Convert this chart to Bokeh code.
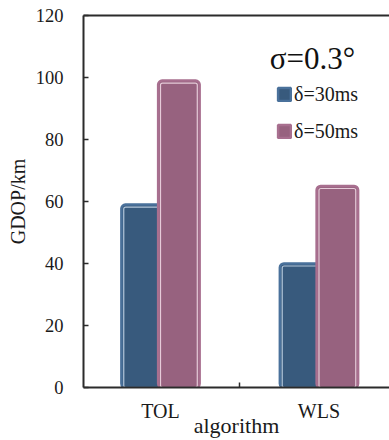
import numpy as np
from bokeh.plotting import figure
from bokeh.models import (ColumnDataSource, LinearAxis, FixedTicker, Range1d,
                          Legend, LegendItem, Label)
from bokeh.embed import file_html
from bokeh.resources import INLINE

# Data
algorithms = ["TOL", "WLS"]
gdop_30ms = [59, 40]
gdop_50ms = [99, 65]
series_labels = ["δ=30ms", "δ=50ms"]
y_ticks = [0, 20, 40, 60, 80, 100, 120]

FONT = "Liberation Serif"
TEXT = "#1a1a1a"
BLUE_FILL, BLUE_EDGE, BLUE_HI = "#385a7d", "#4a719b", "#b4c7db"
PINK_FILL, PINK_EDGE, PINK_HI = "#97627f", "#a86f8f", "#e6cbd9"

centers = np.arange(len(algorithms)) + 0.5
offset = 0.116
bar_w = 0.262
inset_w = 0.03
inset_top = 0.8

src_a = ColumnDataSource(dict(x=centers - offset, top=gdop_30ms,
                              top_in=np.array(gdop_30ms) - inset_top))
src_b = ColumnDataSource(dict(x=centers + offset, top=gdop_50ms,
                              top_in=np.array(gdop_50ms) - inset_top))

p = figure(width=389, height=440, output_backend="svg", toolbar_location=None,
           x_range=Range1d(0.014, 1.945), y_range=Range1d(0, 120),
           x_axis_type=None, y_axis_type=None,
           min_border_left=83, min_border_right=0, min_border_top=15,
           min_border_bottom=53)
p.outline_line_color = None
p.grid.visible = False
p.background_fill_color = "white"
p.border_fill_color = "white"

# bars: solid body with a rounded edge, plus a thin highlight just inside it
r_a = p.vbar(x="x", top="top", bottom=0, width=bar_w, source=src_a,
             fill_color=BLUE_FILL, line_color=BLUE_EDGE, line_width=2.5,
             border_radius=4)
p.vbar(x="x", top="top_in", bottom=0, width=bar_w - inset_w, source=src_a,
       fill_alpha=0, line_color=BLUE_HI, line_width=1.2, border_radius=2)
r_b = p.vbar(x="x", top="top", bottom=0, width=bar_w, source=src_b,
             fill_color=PINK_FILL, line_color=PINK_EDGE, line_width=2.5,
             border_radius=4)
p.vbar(x="x", top="top_in", bottom=0, width=bar_w - inset_w, source=src_b,
       fill_alpha=0, line_color=PINK_HI, line_width=1.2, border_radius=2)

AX_COLOR = "#2b2b2b"

# y axis
yax = LinearAxis(ticker=FixedTicker(ticks=y_ticks, minor_ticks=[]),
                 axis_label="GDOP/km")
yax.axis_line_color = AX_COLOR
yax.axis_line_width = 2
yax.major_tick_in = 5
yax.major_tick_out = 0
yax.major_tick_line_color = AX_COLOR
yax.major_tick_line_width = 1.5
yax.minor_tick_line_color = None
yax.major_label_text_font = FONT
yax.major_label_text_font_size = "18.5px"
yax.major_label_text_color = TEXT
yax.major_label_standoff = 20
yax.axis_label_text_font = FONT
yax.axis_label_text_font_size = "20px"
yax.axis_label_text_font_style = "normal"
yax.axis_label_text_color = TEXT
yax.axis_label_standoff = 4
p.add_layout(yax, "left")

# x axis: category names at group centres, a single tick between groups
xax = LinearAxis(ticker=FixedTicker(ticks=list(centers), minor_ticks=[1.0]),
                 axis_label="algorithm")
xax.major_label_overrides = {float(c): a for c, a in zip(centers, algorithms)}
xax.axis_line_color = AX_COLOR
xax.axis_line_width = 2
xax.major_tick_line_color = None
xax.major_tick_in = 0
xax.major_tick_out = 0
xax.minor_tick_in = 5
xax.minor_tick_out = 0
xax.minor_tick_line_color = AX_COLOR
xax.minor_tick_line_width = 1.5
xax.major_label_text_font = FONT
xax.major_label_text_font_size = "20px"
xax.major_label_text_color = TEXT
xax.major_label_standoff = 12
xax.axis_label_text_font = FONT
xax.axis_label_text_font_size = "22px"
xax.axis_label_text_font_style = "normal"
xax.axis_label_text_color = TEXT
xax.axis_label_standoff = -12
p.add_layout(xax, "below")

# top frame line
tax = LinearAxis(ticker=FixedTicker(ticks=[], minor_ticks=[]))
tax.axis_line_color = AX_COLOR
tax.axis_line_width = 2
tax.major_tick_line_color = None
tax.minor_tick_line_color = None
tax.major_label_text_font_size = "0px"
tax.major_label_standoff = 0
tax.major_tick_out = 0
tax.major_tick_in = 0
p.add_layout(tax, "above")

p.add_layout(Label(x=1.19, y=106, text="σ=0.3°", text_font=FONT,
                   text_font_size="31px", text_color="#111111",
                   text_baseline="alphabetic"))

legend = Legend(items=[LegendItem(label=series_labels[0], renderers=[r_a]),
                       LegendItem(label=series_labels[1], renderers=[r_b])],
                location=(193, 244))
legend.padding = 0
legend.margin = 0
legend.spacing = 13
legend.glyph_width = 16
legend.glyph_height = 16
legend.label_height = 24
legend.label_standoff = 2
legend.label_text_font = FONT
legend.label_text_font_size = "20px"
legend.label_text_color = TEXT
legend.border_line_color = None
legend.background_fill_alpha = 0
p.add_layout(legend, "center")

open("out.html", "w").write(file_html(p, INLINE))
